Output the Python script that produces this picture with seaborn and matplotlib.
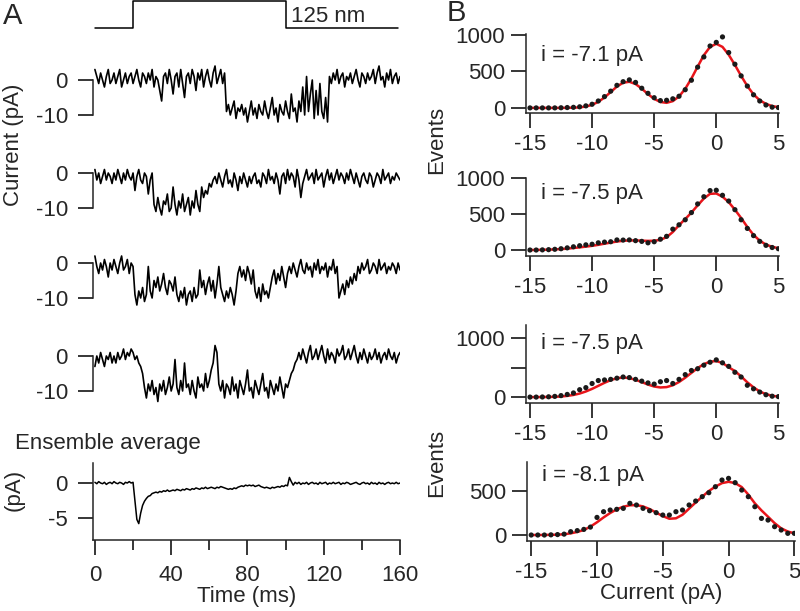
import matplotlib
matplotlib.use("Agg")
import matplotlib.pyplot as plt
import numpy as np
import seaborn as sns

# ---- panel A: stimulus step (ms, relative level) ----
STIM_T = [0, 20, 20, 100, 100, 159]
STIM_LEVEL = [0, 0, 1, 1, 0, 0]

# single-channel sweeps, pA, sampled every 1 ms from 0 to 160 ms
TRACE_1 = [3, 1, -1, 2, 0, -2, 1, 3, -1, 0,
           2, -1, 1, 3, -2, 0, 2, -1, 1, 2,
           -1, 1, 3, 0, -2, 2, 1, -1, 2, 0,
           3, -2, 1, 0, -3, -6, 1, 2, -1, 3,
           0, -4, 1, 2, -2, 3, -1, -5, 1, 2,
           -1, 3, 1, -3, 2, 0, 3, -2, 1, 3,
           0, -2, 2, 4, -1, 1, 3, -1, 2,
           -9, -7, -10, -8, -6, -11, -8, -9, -7, -10,
           -8, -12, -9, -6, -10, -8, -11, -7, -9, -10,
           -6, -9, -11, -8, -5, -10, -8, -12, -7, -9,
           -10, -6, -9, -11, -4, -9, -8, -12, -6, -9,
           -2, -10, 1, -9, -4, 0, -11, -3, -10, -1, -9, -11, -5, -12,
           1, -1, 2, 0, 3, -1, 1, 2, -2, 1,
           0, 2, -1, 1, 3, 0, -2, 2, 1, -1,
           2, 0, 1, 3, -1, 2, 4, 0, 1, -2,
           2, 0, 3, -1, 1, 2, -1, 1]
TRACE_2 = [1, -2, 0, -3, -1, 1, -2, 0, -1, -3,
           0, -2, 1, -1, -3, 0, -2, 1, -1, -2,
           0, -5, -1, 1, -2, -3, 0, -1, -6, -2, 0,
           -9, -11, -7, -10, -12, -8, -9, -6, -11, -10,
           -4, -9, -12, -8, -10, -6, -11, -9, -7, -12,
           -8, -10, -5, -9, -11, -4,
           -7, -5, -6, -3, -4, -2,
           -1, -3, 0, -2, -4, -1, 1, -3, -2, -4,
           0, -2, -5, -1, -3, 0, -2, -4, -1, -3,
           -1, 0, -3, -2, -4, 0, -1, -3, 1, -2,
           -1, -3, 0, -2, -6, -1, 0, -3, 1, -2,
           0, -1, -4, 1, -2, -7, -3, -1, 1, -2,
           -1, 0, -3, 1, -2, -1, 0, -4, -1, 1,
           -2, 0, -3, -1, 1, -2, 0, -1, -3, 0,
           -2, 1, -1, -3, 0, -2, -4, -1, 0, -2,
           -3, 0, -1, -4, -2, 0, -1, -3, 1, -2,
           -1, 0, -3, -1, -2, 0, -1, -2]
TRACE_3 = [2, -1, -3, 0, -2, 1, -1, -4, 0, -2,
           1, -1, -3, 0, 2, -2, -1, 1, -3, 0, -1,
           -9, -12, -8, -10, -7, -11, -9, -1, -8, -10,
           -5, -7, -4, -8, -6, -3, -7, -9, -5, -6, -8, -4,
           -9, -11, -8, -10, -7, -12, -9, -8, -11, -7, -10, -9,
           -2, -7, -5, -9, -6, -4, -8, -5, -10, -6, -1, -7,
           -9, -11, -8, -10, -7, -9, -12, -8,
           -3, -1, -4, -2, -5, -1, -3, -6, -2,
           -8, -10, -7, -11, -6, -9, -8, -10, -7,
           -4, -2, -6, -3, -5, -1, -4, -7, -3,
           -1, -3, 0, -2, -4, -1, 1, -2, -3, 0, -2, -1, -4,
           0, -2, 1, -3, -1, -2, 0, -4, -1, -2, 1, -3, -1,
           -10, -8, -6, -9, -5, -7, -4, -6, -3, -5,
           -1, -3, 0, -2, -1, 1, -3, -2, 0, -1, -3, 1,
           -2, -1, 0, -3, -1, -2, 0, -1, -3, 0, -2]
TRACE_4 = [-3, 0, -2, 1, -1, -3, 0, -1, 1, -2,
           0, -2, 1, -1, 0, 2, -1, 1, 0, 2,
           1, -1, 0, -2, -3, -5,
           -9, -12, -8, -10, -7, -11, -9, -13, -8, -10,
           -7, -11, -9, -6, -10, -8, -1, -9, -11, -7,
           -10, -2, -9, -8, -11, -7, -10, -12, -6, -9,
           -8, -10, -5, -9, -7, -4, -2, 3,
           1, -8,
           -10, -7, -12, -8, -9, -11, -6, -10, -8, -12,
           -7, -9, -11, -8, -4, -10, -9, -12, -7, -9,
           -11, -8, -5, -10, -9, -12, -7, -9, -11, -8,
           -10, -6, -9, -12, -8, -9,
           -7, -5, -4, -2, -1,
           1, -1, 2, 0, -2, 1, 3, -1, 0, 2,
           -1, 1, 3, 0, -2, 2, -1, 1, 0, -2,
           2, 0, 1, 3, -1, 0, 2, -1, 1, 3,
           0, -2, 1, -1, 2, 0, -2, 1, -1, 0,
           2, -1, 1, -2, 0, 1, -1, 2, 0, -1,
           1, -2, 0, 1]
ENSEMBLE = [0.1, -0.1, 0.2, 0, -0.1, 0.1, -0.2, 0, 0.1, -0.1,
            0.2, 0, -0.1, 0.1, 0, -0.2, 0.1, 0, 0.2, 0, 0.1,
            -2.5, -5.2, -5.8, -4.3, -3.2, -2.6, -2.2, -1.9, -1.8, -1.5,
            -1.4, -1.3, -1.4, -1.2, -1.3, -1.1, -1.2, -1.0, -1.2, -1.1,
            -1.0, -1.1, -0.9, -1.0, -1.1, -0.9, -1.0, -0.8, -0.9, -1.0,
            -0.8, -0.9, -0.7, -0.8, -0.9, -0.7, -0.8, -0.6, -0.8, -0.7,
            -0.6, -0.7, -0.8, -0.6, -0.7, -0.5, -0.6, -0.7, -0.8, -0.9,
            -0.8, -0.9, -0.7, -0.8, -0.6, -0.5, -0.4, -0.5, -0.3, -0.4,
            -0.3, -0.4, -0.3, -0.5, -0.4, -0.3, -0.5, -0.6, -0.7, -0.6,
            -0.7, -0.8, -0.6, -0.7, -0.6, -0.5, -0.6, -0.4, -0.5, -0.3, -0.4,
            0.8, 0.2, -0.3, 0.1,
            -0.1, 0.1, -0.2, 0, -0.1, 0.1, -0.2, 0, 0.1, -0.1,
            0, -0.2, 0.1, -0.1, 0, 0.1, -0.2, 0, -0.1, 0.1,
            -0.1, 0, 0.1, -0.2, 0, -0.1, 0.1, 0, -0.2, -0.1,
            0, 0.1, -0.1, -0.2, 0, 0.1, -0.1, 0, -0.2, 0.1,
            -0.1, 0, -0.2, 0.1, -0.1, 0, -0.2, 0, 0.1, -0.1,
            0, -0.1, 0.1, -0.1, 0]

# ---- panel B: amplitude histograms (pA bins) and two-Gaussian fits ----
HIST_X = np.arange(-15, 5.01, 0.5)
DOTS_1 = [0, 0, 0, 0, 0, 2, 5, 8, 15, 28, 50, 95, 155, 230, 310, 360, 385, 350, 270, 200,
          140, 100, 105, 125, 160, 250, 380, 560, 700, 850, 900, 975, 760, 600, 440, 300,
          180, 95, 40, 10, 5]
FIT_1 = [0, 0, 0, 0, 0, 0, 1, 3, 7, 19, 42, 83, 143, 218, 293, 346, 359, 328, 265, 189,
         124, 81, 70, 93, 157, 262, 404, 567, 724, 838, 880, 838, 730, 590, 440, 300,
         185, 105, 55, 25, 10]
DOTS_2 = [0, 0, 2, 5, 10, 18, 30, 45, 60, 72, 80, 100, 110, 115, 140, 138, 140, 130, 120, 100,
          115, 150, 190, 290, 350, 420, 520, 640, 740, 825, 830, 760, 680, 560, 420, 300,
          200, 120, 65, 35, 18]
FIT_2 = [0, 1, 3, 5, 9, 13, 19, 28, 37, 47, 58, 72, 88, 103, 118, 128, 133, 133, 130, 127,
         128, 142, 178, 250, 345, 430, 520, 620, 715, 780, 785, 740, 665, 560, 445, 320,
         210, 130, 75, 45, 25]
DOTS_3 = [0, 0, 2, 5, 12, 25, 45, 70, 125, 160, 230, 280, 290, 300, 320, 340, 330, 300, 270, 240,
          220, 260, 280, 230, 300, 380, 450, 480, 540, 590, 630, 580, 520, 420, 340, 200,
          140, 85, 40, 15, 8]
FIT_3 = [0, 0, 1, 2, 5, 10, 20, 36, 60, 95, 139, 190, 242, 287, 319, 331, 322, 293, 254, 212,
         179, 163, 169, 200, 255, 328, 410, 491, 558, 599, 610, 577, 506, 440, 350, 250,
         165, 95, 50, 22, 8]
DOTS_4 = [0, 0, 0, 2, 5, 10, 38, 50, 64, 90, 200, 265, 284, 292, 303, 360, 341, 303, 276, 254,
          227, 227, 265, 284, 341, 386, 436, 481, 549, 625, 644, 595, 511, 436, 322, 189,
          170, 95, 57, 19, 19]
FIT_4 = [0, 0, 1, 2, 4, 9, 19, 35, 57, 95, 145, 200, 250, 292, 322, 338, 340, 325, 295, 255,
         215, 185, 190, 230, 300, 370, 436, 500, 550, 590, 605, 590, 545, 460, 360, 280,
         208, 135, 76, 40, 19]
UNITARY = ["i = -7.1 pA", "i = -7.5 pA", "i = -7.5 pA", "i = -8.1 pA"]

W, H = 800, 611
FS = 16

sns.set_style("ticks")
plt.rcParams["font.family"] = ["Liberation Sans", "DejaVu Sans"]
plt.rcParams["axes.unicode_minus"] = False
plt.rcParams["axes.linewidth"] = 1.1

fig = plt.figure(figsize=(W / 100, H / 100), dpi=100)


def px_axes(left, top, right, bottom):
    return fig.add_axes([left / W, 1 - bottom / H, (right - left) / W, (bottom - top) / H])


def style_ticks(ax, pad):
    ax.tick_params(axis="both", which="major", length=11, width=1.1,
                   labelsize=FS, pad=pad, color="black")
    ax.tick_params(axis="both", which="minor", length=7, width=1.1, color="black")


# stimulus
ax = px_axes(93, 1, 400, 28)
sns.lineplot(x=STIM_T, y=STIM_LEVEL, ax=ax, color="black", linewidth=1.1,
             sort=False, estimator=None)
ax.set_xlim(-1, 160)
ax.set_ylim(0, 1)
ax.axis("off")
for line in ax.lines:
    line.set_clip_on(False)
ax.text(103, 0.42, "125 nm", fontsize=FS, ha="left", va="center")

# sweeps
for trace, top in zip([TRACE_1, TRACE_2, TRACE_3, TRACE_4], [59, 152, 242, 335]):
    ax = px_axes(93, top, 400, top + 70)
    t = np.linspace(0, 160, len(trace))
    sns.lineplot(x=t, y=trace, ax=ax, color="black", linewidth=1.2, estimator=None)
    ax.set_xlim(-1, 160)
    ax.set_ylim(-14, 6)
    for side in ["top", "right", "bottom"]:
        ax.spines[side].set_visible(False)
    ax.spines["left"].set_bounds(-10, 0)
    ax.set_xticks([])
    ax.set_yticks([0, -10])
    ax.set_yticklabels(["0", "-10"])
    style_ticks(ax, 7)

# ensemble average
ax = px_axes(93, 463, 400, 540)
t = np.linspace(0, 160, len(ENSEMBLE))
sns.lineplot(x=t, y=ENSEMBLE, ax=ax, color="black", linewidth=1.1, estimator=None)
ax.set_xlim(-1, 160)
ax.set_ylim(-8.14, 2.86)
sns.despine(ax=ax)
ax.set_yticks([0, -5])
ax.set_yticklabels(["0", "-5"])
ax.set_xticks([0, 40, 80, 120, 160])
ax.set_xticks([20, 60, 100, 140], minor=True)
style_ticks(ax, 7)
ax.set_xlabel("Time (ms)", fontsize=FS, labelpad=0)

fig.text(3 / W, 1 - 16 / H, "A", fontsize=21, ha="left", va="center")
fig.text(14 / W, 1 - 145 / H, "Current (pA)", fontsize=FS, rotation=90, ha="center", va="center")
fig.text(14 / W, 1 - 490 / H, "(pA)", fontsize=FS, rotation=90, ha="center", va="center")
fig.text(15 / W, 1 - 443 / H, "Ensemble average", fontsize=FS, ha="left", va="center")

# histograms
hist_specs = [
    (DOTS_1, FIT_1, 526, 779, 34, 113, (-70, 1015), [0, 500, 1000], ["0", "500", "1000"], 55),
    (DOTS_2, FIT_2, 526, 779, 178, 256, (-83, 1000), [0, 500, 1000], ["0", "500", "1000"], 193),
    (DOTS_3, FIT_3, 526, 779, 325, 403, (-100, 1220), [0, 500, 1000], ["0", "", "1000"], 343),
    (DOTS_4, FIT_4, 527, 795, 462, 541, (-68, 830), [0, 500], ["0", "500"], 475),
]
for i, (dots, fit, left, right, top, bottom, ylim, yt, ytl, label_y) in enumerate(hist_specs):
    ax = px_axes(left, top, right, bottom)
    sns.lineplot(x=HIST_X, y=fit, ax=ax, color="#e8141a", linewidth=1.8, estimator=None, zorder=2)
    sns.scatterplot(x=HIST_X, y=dots, ax=ax, color="#1a1a1a", s=14, edgecolor="none", zorder=3)
    ax.set_xlim(-15.32, 5.05)
    ax.set_ylim(*ylim)
    sns.despine(ax=ax)
    ax.set_xticks([-15, -10, -5, 0, 5])
    ax.set_xticklabels(["-15", "-10", "-5", "0", "5"])
    ax.set_yticks(yt)
    ax.set_yticklabels(ytl)
    style_ticks(ax, 4)
    fig.text((left + 15) / W, 1 - label_y / H, UNITARY[i], fontsize=FS, ha="left", va="center")
    if i == 3:
        ax.set_xlabel("Current (pA)", fontsize=FS, labelpad=0)

fig.text(447 / W, 1 - 13 / H, "B", fontsize=21, ha="left", va="center")
fig.text(437 / W, 1 - 140 / H, "Events", fontsize=FS, rotation=90, ha="center", va="center")
fig.text(437 / W, 1 - 463 / H, "Events", fontsize=FS, rotation=90, ha="center", va="center")

fig.savefig("out.png", dpi=100)
